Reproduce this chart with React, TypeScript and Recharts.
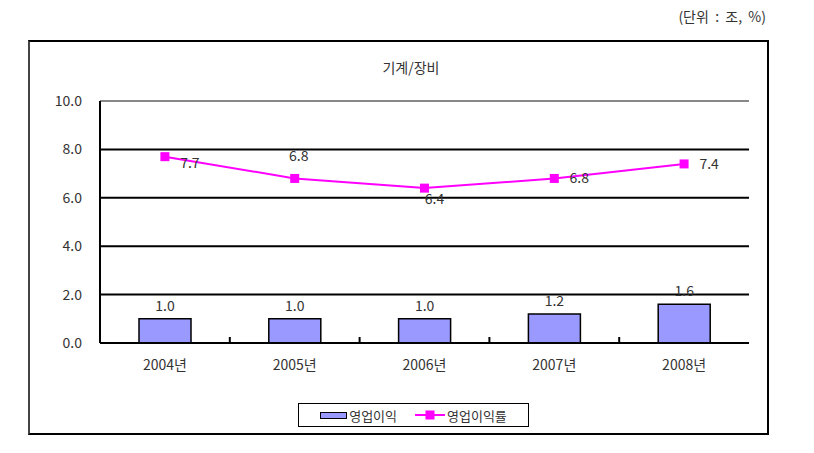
import { ComposedChart, Bar, Line, XAxis, YAxis, CartesianGrid, LabelList, Legend, ReferenceLine } from 'recharts';

const years = ['2004년', '2005년', '2006년', '2007년', '2008년'];
const profit = [1.0, 1.0, 1.0, 1.2, 1.6];
const margin = [7.7, 6.8, 6.4, 6.8, 7.4];
const yTicks = [0, 2, 4, 6, 8, 10];

const data = years.map((year, i) => ({ year, profit: profit[i], margin: margin[i] }));

// where each 영업이익률 label sits relative to its marker
const marginLabelSide = ['right', 'top', 'bottom', 'right', 'right'];

const FONT = '"Noto Sans CJK KR", "DejaVu Sans", sans-serif';
const LABEL_GAP = 14;

const SquareDot = ({ cx, cy }: any) => {
  if (cx == null || cy == null) return null;
  return <rect x={cx - 4.5} y={cy - 4.5} width={9} height={9} fill="#FF00FF" />;
};

// category label plus a short inward tick on the band's left edge
const YearTick = ({ x, y, payload, index }: any) => {
  const half = payload?.offset;
  const axisY = y - LABEL_GAP;
  return (
    <g>
      {index > 0 && half ? <line x1={x - half} x2={x - half} y1={axisY} y2={axisY - 6} stroke="#000" strokeWidth={2} /> : null}
      <text x={x} y={y} textAnchor="middle" dominantBaseline="hanging" fontSize={14} fill="#333" fontFamily={FONT}>
        {payload.value}
      </text>
    </g>
  );
};

const MarginLabel = ({ x, y, value, index }: any) => {
  const side = marginLabelSide[index];
  let dx = 0;
  let dy = 0;
  if (side === 'right') {
    dx = 25;
    dy = index === 0 ? 8 : 1;
  } else if (side === 'top') {
    dx = 4;
    dy = -21;
  } else {
    dx = 10;
    dy = 12;
  }
  return (
    <text x={x + dx} y={y + dy} textAnchor="middle" dominantBaseline="middle" fontSize={14} fill="#333" fontFamily={FONT}>
      {Number(value).toFixed(1)}
    </text>
  );
};

const LegendBox = () => (
  <div
    style={{
      display: 'flex',
      alignItems: 'center',
      justifyContent: 'center',
      gap: 18,
      width: 229,
      height: 22,
      border: '1.5px solid #000',
      fontFamily: FONT,
      fontSize: 13,
      color: '#333',
      background: '#fff',
    }}
  >
    <span style={{ display: 'flex', alignItems: 'center' }}>
      <span style={{ display: 'inline-block', width: 25, height: 5, background: '#9999FF', border: '1.5px solid #000', marginRight: 2 }} />
      영업이익
    </span>
    <span style={{ display: 'flex', alignItems: 'center' }}>
      <svg width={30} height={10} style={{ marginRight: 2 }}>
        <line x1={0} y1={5} x2={30} y2={5} stroke="#FF00FF" strokeWidth={2} />
        <rect x={10.5} y={0.5} width={9} height={9} fill="#FF00FF" />
      </svg>
      영업이익률
    </span>
  </div>
);

export default function App() {
  return (
    <div style={{ position: 'relative', width: 814, height: 453, background: '#fff', fontFamily: FONT }}>
      <style>{'body{margin:0}'}</style>
      <div style={{ position: 'absolute', left: 28, top: 40, width: 737, height: 391, border: '2px solid #000', borderLeftColor: '#444' }} />
      <div style={{ position: 'absolute', right: 48, top: 6, fontSize: 14, color: '#333', whiteSpace: 'pre' }}>(단위  :  조,  %)</div>
      <div style={{ position: 'absolute', left: 0, width: 814, top: 57, textAlign: 'center', fontSize: 14, color: '#333', paddingLeft: 4 }}>기계/장비</div>
      <div style={{ position: 'absolute', left: 0, top: 0 }}>
        <ComposedChart width={814} height={453} data={data} margin={{ top: 101, right: 65, left: 40, bottom: 56 }}>
          <CartesianGrid vertical={false} stroke="#000" strokeWidth={2} horizontalValues={[2, 4, 6, 8]} />
          <XAxis
            dataKey="year"
            axisLine={{ stroke: '#000', strokeWidth: 2 }}
            tickLine={false}
            tickSize={0}
            tick={<YearTick />}
            tickMargin={LABEL_GAP}
            height={30}
          />
          <YAxis
            domain={[0, 10]}
            ticks={yTicks}
            tickFormatter={(v: number) => v.toFixed(1)}
            axisLine={{ stroke: '#000', strokeWidth: 2 }}
            tickLine={false}
            tick={{ fontSize: 14, fill: '#333', fontFamily: FONT }}
            tickMargin={12}
            width={60}
          />
          <YAxis yAxisId="edge" orientation="right" width={0} tick={false} tickLine={false} axisLine={{ stroke: '#888', strokeWidth: 2 }} />
          <ReferenceLine y={10} stroke="#888" strokeWidth={2} />
          <Bar dataKey="profit" barSize={52} fill="#9999FF" stroke="#000" strokeWidth={1.5} isAnimationActive={false}>
            <LabelList dataKey="profit" position="top" offset={8} formatter={(v: any) => Number(v).toFixed(1)} style={{ fontSize: 14, fill: '#333', fontFamily: FONT }} />
          </Bar>
          <Line dataKey="margin" stroke="#FF00FF" strokeWidth={2} dot={<SquareDot />} activeDot={false} isAnimationActive={false}>
            <LabelList dataKey="margin" content={<MarginLabel />} />
          </Line>
          <Legend content={<LegendBox />} wrapperStyle={{ left: 298, top: 403, width: 232, bottom: 'auto' }} />
        </ComposedChart>
      </div>
    </div>
  );
}
